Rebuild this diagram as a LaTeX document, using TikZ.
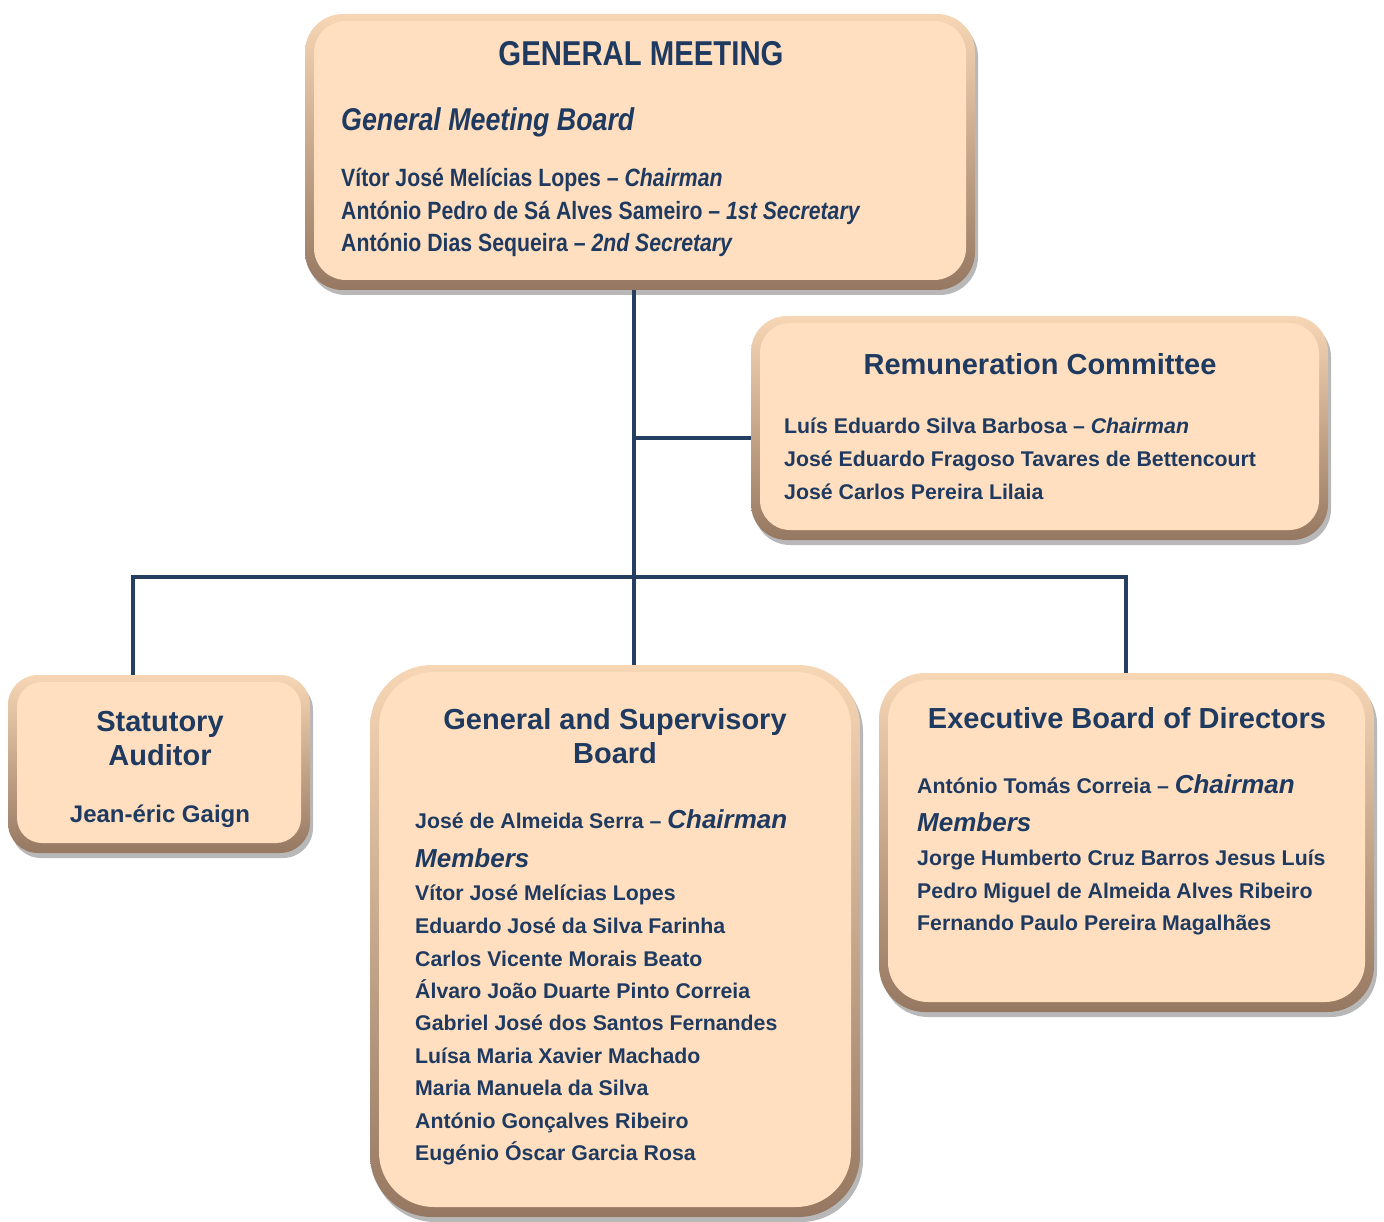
\documentclass[tikz,border=0pt]{standalone}
\usepackage{fontspec}
\setmainfont{Liberation Sans}
\newfontfamily\narrowfont[FakeStretch=0.85]{Liberation Sans}
\usetikzlibrary{calc,shadows}
\definecolor{navy}{HTML}{1F3A60}
\definecolor{peach}{HTML}{FFDFBF}
\definecolor{tanL}{HTML}{F6D6B4}
\definecolor{tanD}{HTML}{967862}
\definecolor{linec}{HTML}{253F62}
\tikzset{
  orgbox/.style 2 args={draw=none, rounded corners=#1, top color=tanL, bottom color=tanD,
    drop shadow={shadow xshift=3pt, shadow yshift=-5pt, opacity=0.28, fill=black},
    path picture={\fill[peach, rounded corners=#2]
      ($(path picture bounding box.south west)+(9pt,10pt)$) rectangle
      ($(path picture bounding box.north east)+(-9pt,-7pt)$);},
    inner sep=0pt},
  conn/.style={draw=linec, line width=3.6pt},
  txt/.style={inner sep=0pt, text=navy, font=\bfseries},
  gmtitle/.style={txt, font=\narrowfont\bfseries\fontsize{34.5}{40}\selectfont},
  gmsub/.style={txt, font=\narrowfont\bfseries\itshape\fontsize{31.5}{36}\selectfont},
  gmname/.style={txt, font=\narrowfont\bfseries\fontsize{25}{30}\selectfont},
  title/.style={txt, font=\bfseries\fontsize{29}{34}\selectfont},
  pname/.style={txt, font=\bfseries\fontsize{21.3}{26}\selectfont},
  bigit/.style={txt, font=\bfseries\itshape\fontsize{26}{30}\selectfont},
}
\begin{document}
\begin{tikzpicture}[x=1pt,y=-1pt]
\useasboundingbox (0,0) rectangle (1384,1222);

% boxes
\node[orgbox={38}{32}, minimum width=670, minimum height=276] (gm) at (640,152) {};
\node[orgbox={36}{30}, minimum width=577, minimum height=224] (rem) at (1039.5,428) {};
\node[orgbox={30}{25}, minimum width=302, minimum height=178] (sa) at (159,764) {};
\node[orgbox={62}{55}, minimum width=490, minimum height=552] (gsb) at (615,941) {};
\node[orgbox={46}{40}, minimum width=495, minimum height=339] (eb) at (1126.5,842.5) {};

% connectors
\coordinate (trunk) at (634,0);
\coordinate (br) at (634,438);
\coordinate (busL) at (133,577);
\coordinate (busR) at (1126,577);
\draw[conn] (trunk |- gm.south) -- (trunk |- gsb.north);
\draw[conn] (br) -- (rem.west |- br);
\draw[conn] (busL |- sa.north) -- (busL) -- (busR) -- (busR |- eb.north);

% General Meeting
\node[gmtitle, anchor=base] (gmt) at (641,66) {GENERAL MEETING};
\node[gmsub, anchor=base west] (gmb) at (341,131) {General Meeting Board};
\node[gmname, anchor=base west] (gm1) at (341,187) {Vítor José Melícias Lopes – \textit{Chairman}};
\node[gmname, anchor=base west] (gm2) at (341,220) {António Pedro de Sá Alves Sameiro – \textit{1st Secretary}};
\node[gmname, anchor=base west] (gm3) at (341,252) {António Dias Sequeira – \textit{2nd Secretary}};

% Remuneration Committee
\node[title, anchor=base] (remt) at (1040,374) {Remuneration Committee};
\node[pname, anchor=base west] (rem1) at (784,433) {Luís Eduardo Silva Barbosa – \textit{Chairman}};
\node[pname, anchor=base west] (rem2) at (784,466) {José Eduardo Fragoso Tavares de Bettencourt};
\node[pname, anchor=base west] (rem3) at (784,499) {José Carlos Pereira Lilaia};

% Statutory Auditor
\node[title, anchor=base] (sat1) at (160,731) {Statutory};
\node[title, anchor=base] (sat2) at (160,765) {Auditor};
\node[txt, font=\bfseries\fontsize{24}{28}\selectfont, anchor=base] (sa1) at (160,822) {Jean-éric Gaign};

% General and Supervisory Board
\node[title, anchor=base] (gsbt1) at (615,729) {General and Supervisory};
\node[title, anchor=base] (gsbt2) at (615,763) {Board};
\node[pname, anchor=base west] (gsbc) at (415,828) {José de Almeida Serra – \textnormal{\bfseries\itshape\fontsize{26}{30}\selectfont Chairman}};
\node[bigit, anchor=base west] (gsbm) at (415,867) {Members};
\foreach \n/\t [count=\i] in {900/Vítor José Melícias Lopes,
  933/Eduardo José da Silva Farinha,
  966/Carlos Vicente Morais Beato,
  998/Álvaro João Duarte Pinto Correia,
  1030/Gabriel José dos Santos Fernandes,
  1063/Luísa Maria Xavier Machado,
  1095/Maria Manuela da Silva,
  1128/António Gonçalves Ribeiro,
  1160/Eugénio Óscar Garcia Rosa}
  \node[pname, anchor=base west] (gsbn\i) at (415,\n) {\t};

% Executive Board of Directors
\node[title, anchor=base] (ebt) at (1127,728) {Executive Board of Directors};
\node[pname, anchor=base west] (ebc) at (917,793) {António Tomás Correia – \textnormal{\bfseries\itshape\fontsize{26}{30}\selectfont Chairman}};
\node[bigit, anchor=base west] (ebm) at (917,831) {Members};
\foreach \n/\t [count=\i] in {865/Jorge Humberto Cruz Barros Jesus Luís,
  898/Pedro Miguel de Almeida Alves Ribeiro,
  930/Fernando Paulo Pereira Magalhães}
  \node[pname, anchor=base west] (ebn\i) at (917,\n) {\t};
\end{tikzpicture}
\end{document}
